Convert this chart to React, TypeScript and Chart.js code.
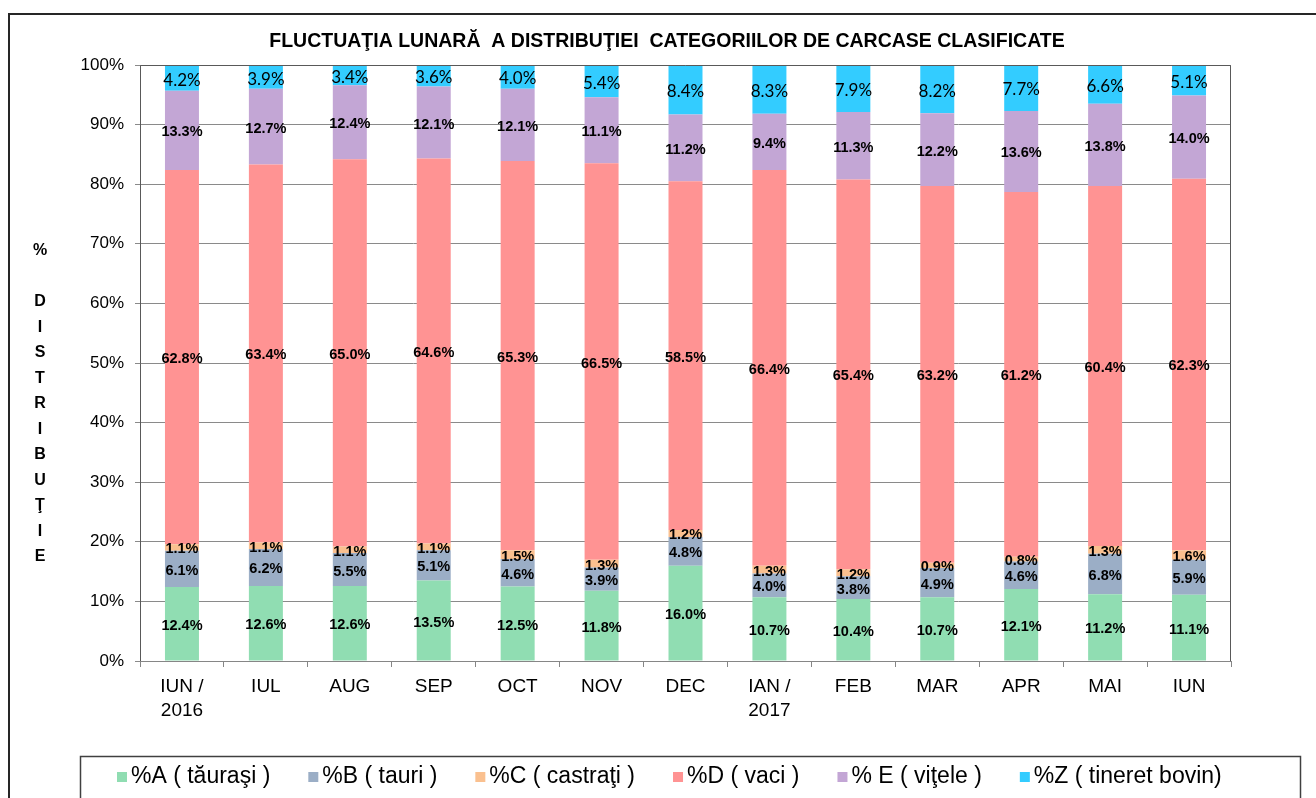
import React, { useEffect, useRef } from "react";
import { Chart, registerables } from "chart.js";

Chart.register(...registerables);

const categories: (string | string[])[] = [
  ["IUN /", "2016"], "IUL", "AUG", "SEP", "OCT", "NOV", "DEC",
  ["IAN /", "2017"], "FEB", "MAR", "APR", "MAI", "IUN",
];

const seriesA = [12.4, 12.6, 12.6, 13.5, 12.5, 11.8, 16.0, 10.7, 10.4, 10.7, 12.1, 11.2, 11.1];
const seriesB = [6.1, 6.2, 5.5, 5.1, 4.6, 3.9, 4.8, 4.0, 3.8, 4.9, 4.6, 6.8, 5.9];
const seriesC = [1.1, 1.1, 1.1, 1.1, 1.5, 1.3, 1.2, 1.3, 1.2, 0.9, 0.8, 1.3, 1.6];
const seriesD = [62.8, 63.4, 65.0, 64.6, 65.3, 66.5, 58.5, 66.4, 65.4, 63.2, 61.2, 60.4, 62.3];
const seriesE = [13.3, 12.7, 12.4, 12.1, 12.1, 11.1, 11.2, 9.4, 11.3, 12.2, 13.6, 13.8, 14.0];
const seriesZ = [4.2, 3.9, 3.4, 3.6, 4.0, 5.4, 8.4, 8.3, 7.9, 8.2, 7.7, 6.6, 5.1];

const seriesNames = [
  "%A ( tăuraşi )",
  "%B ( tauri )",
  "%C ( castraţi )",
  "%D ( vaci )",
  "% E ( viţele )",
  "%Z ( tineret bovin)",
];
const seriesColors = ["#90DDB2", "#9BAEC6", "#FAC08F", "#FF9393", "#C3A6D5", "#33CCFF"];

const titleText = "FLUCTUAŢIA LUNARĂ  A DISTRIBUŢIEI  CATEGORIILOR DE CARCASE CLASIFICATE";
const yTitleLetters = ["%", "", "D", "I", "S", "T", "R", "I", "B", "U", "Ţ", "I", "E"];

const ARIAL = "'Liberation Sans', Arial, sans-serif";

const segLabelPlugin = {
  id: "segLabels",
  afterDatasetsDraw(chart: any) {
    const ctx = chart.ctx;
    ctx.save();
    ctx.textAlign = "center";
    ctx.textBaseline = "middle";
    ctx.fillStyle = "#000";
    const last = chart.data.datasets.length - 1;
    chart.data.datasets.forEach((ds: any, i: number) => {
      const meta = chart.getDatasetMeta(i);
      ctx.font = i === last ? "17px Lato, 'Open Sans', sans-serif" : `bold 14.5px ${ARIAL}`;
      meta.data.forEach((bar: any, j: number) => {
        const p = bar.getProps(["x", "y", "base"], true);
        const top = Math.max(p.y, chart.chartArea.top);
        const cy = (top + p.base) / 2;
        ctx.fillText(Number(ds.data[j]).toFixed(1) + "%", p.x, cy + 2);
      });
    });
    ctx.restore();
  },
};

const decorPlugin = {
  id: "decor",
  afterDraw(chart: any) {
    const ctx = chart.ctx;
    const a = chart.chartArea;
    ctx.save();
    // plot frame
    ctx.strokeStyle = "#595959";
    ctx.lineWidth = 1;
    ctx.beginPath();
    ctx.moveTo(a.left + 0.5, a.bottom);
    ctx.lineTo(a.left + 0.5, a.top + 0.5);
    ctx.lineTo(a.right - 0.5, a.top + 0.5);
    ctx.lineTo(a.right - 0.5, a.bottom);
    ctx.stroke();
    // outer frame
    ctx.strokeStyle = "#262626";
    ctx.lineWidth = 2;
    ctx.beginPath();
    ctx.moveTo(9, chart.height + 2);
    ctx.lineTo(9, 14);
    ctx.lineTo(chart.width + 2, 14);
    ctx.stroke();
    // title
    ctx.fillStyle = "#000";
    ctx.font = `bold 19.5px ${ARIAL}`;
    ctx.textAlign = "center";
    ctx.textBaseline = "middle";
    ctx.fillText(titleText, 667, 42);
    // y title
    ctx.font = `bold 16px ${ARIAL}`;
    yTitleLetters.forEach((ch, i) => {
      if (ch) ctx.fillText(ch, 40, 251 + i * 25.5);
    });
    // legend
    ctx.strokeStyle = "#404040";
    ctx.lineWidth = 1.5;
    ctx.strokeRect(80.5, 756.5, 1220, 44);
    ctx.font = `23px ${ARIAL}`;
    ctx.textAlign = "left";
    let x = 117;
    const ly = 777;
    chart.data.datasets.forEach((ds: any) => {
      ctx.fillStyle = ds.backgroundColor;
      ctx.fillRect(x, ly - 5, 10, 10);
      ctx.fillStyle = "#000";
      ctx.fillText(ds.label, x + 14, ly);
      x += 14 + ctx.measureText(ds.label).width + 38;
    });
    ctx.restore();
  },
};

export default function App() {
  const ref = useRef<HTMLCanvasElement | null>(null);
  useEffect(() => {
    document.body.style.margin = "0";
    const canvas = ref.current!;
    const allSeries = [seriesA, seriesB, seriesC, seriesD, seriesE, seriesZ];
    const chart = new Chart(canvas, {
      type: "bar",
      data: {
        labels: categories,
        datasets: allSeries.map((s, i) => ({
          label: seriesNames[i],
          data: s,
          backgroundColor: seriesColors[i],
          borderWidth: 0,
          barPercentage: 0.405,
          categoryPercentage: 1,
        })),
      },
      options: {
        animation: false,
        responsive: false,
        maintainAspectRatio: false,
        layout: { padding: { left: 0, right: 103, top: 65, bottom: 0 } },
        plugins: {
          legend: { display: false },
          tooltip: { enabled: false },
          title: { display: false },
        },
        scales: {
          x: {
            stacked: true,
            afterFit: (s: any) => { s.height = 137; },
            grid: {
              offset: true,
              drawOnChartArea: false,
              tickLength: 6,
              color: "#868686",
            },
            border: { color: "#868686" },
            ticks: {
              color: "#000",
              font: { family: ARIAL, size: 19, lineHeight: 1.26 },
              padding: 8,
              maxRotation: 0,
              autoSkip: false,
            },
          },
          y: {
            stacked: true,
            min: 0,
            max: 100,
            afterFit: (s: any) => { s.width = 140; },
            grid: { color: "#8a8a8a", tickLength: 5 },
            border: { color: "#868686" },
            ticks: {
              stepSize: 10,
              color: "#000",
              padding: 11,
              font: { family: ARIAL, size: 17 },
              callback: (v: any) => v + "%",
            },
          },
        },
      },
      plugins: [segLabelPlugin, decorPlugin],
    });
    return () => chart.destroy();
  }, []);
  return (
    <div style={{ width: 1316, height: 798, overflow: "hidden", position: "relative", background: "#fff" }}>
      <canvas ref={ref} width={1334} height={798} style={{ display: "block" }} />
    </div>
  );
}
